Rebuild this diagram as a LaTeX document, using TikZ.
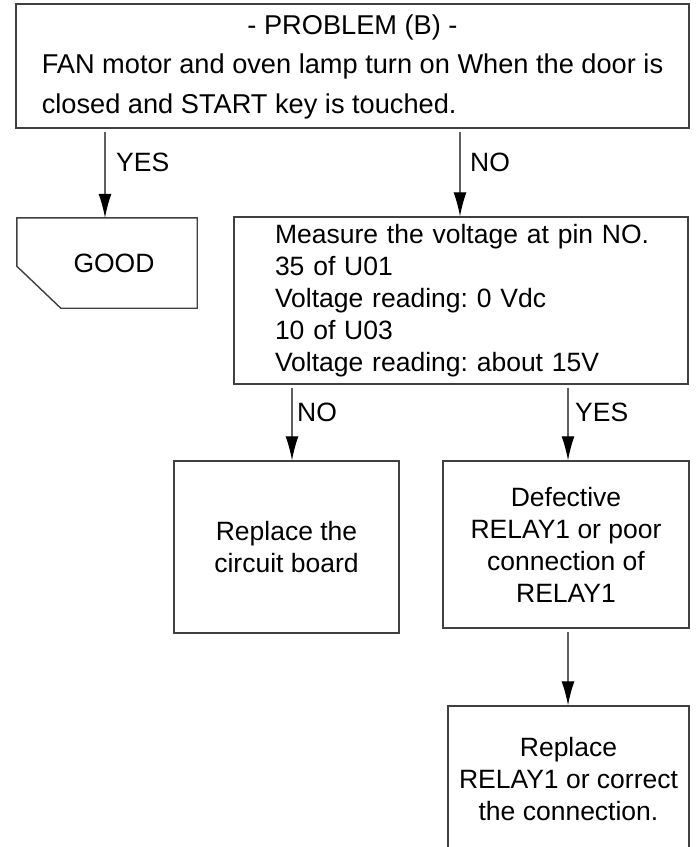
\documentclass[tikz,border=0pt]{standalone}
\usepackage{fontspec}
\setmainfont{Liberation Sans}
\usetikzlibrary{arrows.meta}
\definecolor{boxc}{HTML}{404040}
\definecolor{arrc}{HTML}{606060}
\frenchspacing
\begin{document}
\begin{tikzpicture}[x=1pt,y=-1pt,
  txt/.style={font=\fontsize{26.5}{32}\selectfont},
  box/.style={txt, draw=boxc, line width=1.4pt, inner sep=0pt, align=center},
  boxline/.style={draw=boxc, line width=1.4pt},
  arr/.style={draw=arrc, line width=1.2pt, shorten <=3pt, -{Latex[length=24pt,width=13pt,color=black]}},
  lbl/.style={txt, inner sep=0pt, anchor=west}]
\useasboundingbox (0,0) rectangle (696,847);
\fill[white] (0,0) rectangle (696,847);
\clip (0,0) rectangle (696,847);

\node[box, minimum width=673pt, minimum height=124pt, font=\fontsize{27.2}{33}\selectfont] (top) at (352.5,66)
  {\def\arraystretch{1.2}\begin{tabular}{@{}l@{}}\multicolumn{1}{@{}c@{}}{- PROBLEM (B) -}\\
   FAN motor and oven lamp turn on When the door is\\
   closed and START key is touched.\end{tabular}};

\node[txt, inner sep=0pt, minimum width=180pt, minimum height=90pt] (good) at (107,263) {\hspace*{14pt}GOOD};
\draw[boxline] (good.north west) -- (good.north east) -- (good.south east)
  -- ([xshift=44pt]good.south west) -- ([yshift=42pt]good.south west) -- cycle;

\node[box, minimum width=454pt, minimum height=167pt, align=left, text width=372pt, inner xsep=41pt] (meas) at (461,300.5)
  {\mbox{Measure the voltage at pin NO.}\\35 of U01\\Voltage reading: 0 Vdc\\10 of U03\\\mbox{Voltage reading: about 15V}};

\node[box, minimum width=225pt, minimum height=172pt] (rep) at (286.5,547) {Replace the\\circuit board};
\node[box, minimum width=246pt, minimum height=167pt] (def) at (566,544.5) {Defective\\RELAY1 or poor\\connection of\\RELAY1};
\node[box, minimum width=241pt, minimum height=146pt] (rep2) at (568.5,779) {Replace\\RELAY1 or correct\\the connection.};

\coordinate (xA) at (105,0);
\coordinate (xB) at (460,0);
\coordinate (xC) at (292,0);
\coordinate (xD) at (568,0);

\draw[arr] (top.south -| xA) -- (good.north -| xA);
\draw[arr] (top.south -| xB) -- (meas.north -| xB);
\draw[arr] (meas.south -| xC) -- (rep.north -| xC);
\draw[arr] (meas.south -| xD) -- (def.north -| xD);
\draw[arr] (def.south -| xD) -- (rep2.north -| xD);

\node[lbl] (l1) at (116,162) {YES};
\node[lbl] (l2) at (470,162) {NO};
\node[lbl] (l3) at (297,412) {NO};
\node[lbl] (l4) at (575,412) {YES};
\end{tikzpicture}
\end{document}
